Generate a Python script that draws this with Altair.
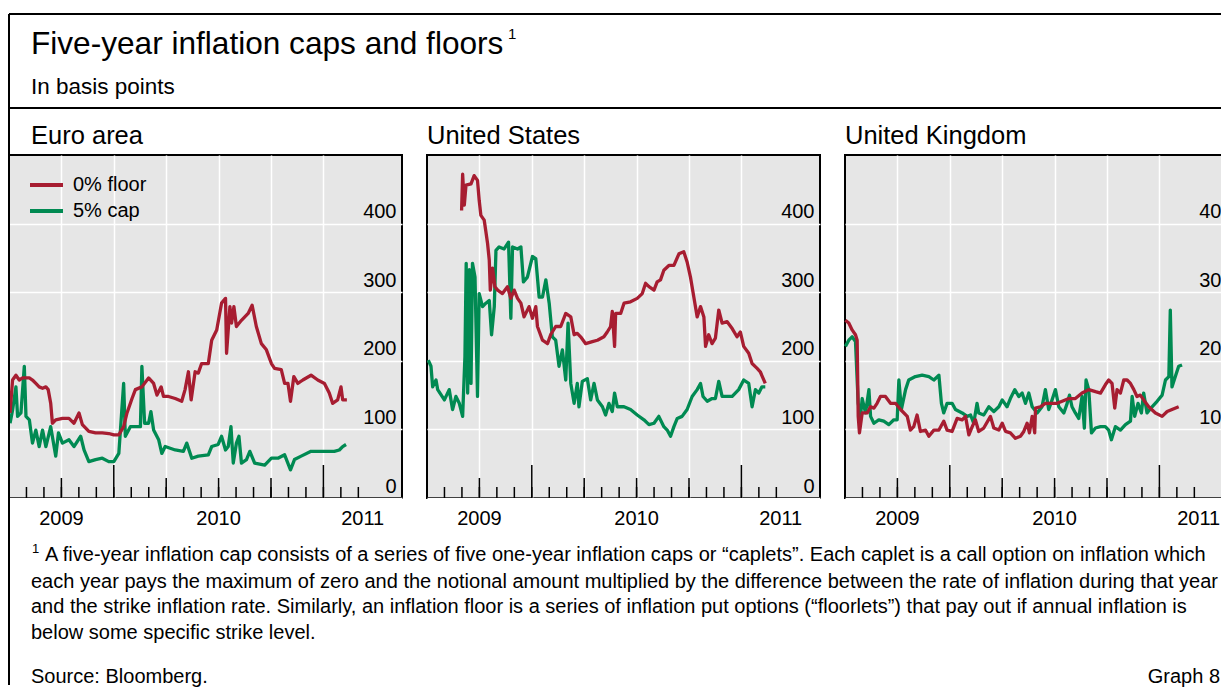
import altair as alt
import numpy as np
import pandas as pd

FONT = "Liberation Sans"
RED = "#a71d31"
GREEN = "#008a52"
PANEL_BG = "#e6e6e6"

series_names = ["0% floor", "5% cap"]
series_colors = [RED, GREEN]
panel_titles = ["Euro area", "United States", "United Kingdom"]
y_tick_values = [0, 100, 200, 300, 400]
y_domain = [0, 500]
x_domain = [2009.5, 2011.375]
year_labels = ["2009", "2010", "2011"]
year_bounds = [2009.5, 2010.0, 2011.0, 2011.375]
quarter_grid = [2009.75, 2010.0, 2010.25, 2010.5, 2010.75, 2011.0]
quarter_ticks = [2009.75, 2010.25, 2010.5, 2010.75]
year_ticks = [2010.0, 2011.0]
month_ticks = [round(2009.5 + k / 12, 4) for k in range(1, 21)]

# ---------------- Euro area ----------------
ea_floor_year = [2009.505, 2009.517, 2009.533, 2009.549, 2009.565, 2009.597, 2009.612, 2009.628, 2009.644, 2009.660,
                 2009.676, 2009.687, 2009.699, 2009.707, 2009.723, 2009.755, 2009.786, 2009.810, 2009.834, 2009.850,
                 2009.881, 2009.913, 2009.945, 2009.976, 2010.000, 2010.024, 2010.047, 2010.063, 2010.087, 2010.103,
                 2010.134, 2010.166, 2010.190, 2010.206, 2010.226, 2010.237, 2010.261, 2010.293, 2010.324, 2010.340,
                 2010.356, 2010.369, 2010.388, 2010.403, 2010.419, 2010.451, 2010.467, 2010.491, 2010.514, 2010.533,
                 2010.538, 2010.554, 2010.562, 2010.573, 2010.585, 2010.609, 2010.641, 2010.660, 2010.680, 2010.704,
                 2010.728, 2010.752, 2010.767, 2010.799, 2010.815, 2010.831, 2010.843, 2010.859, 2010.878, 2010.902,
                 2010.941, 2010.973, 2011.005, 2011.028, 2011.044, 2011.068, 2011.084, 2011.092, 2011.112]
ea_floor_bp = [124, 172, 179, 172, 175, 175, 172, 167, 162, 160,
               162, 158, 138, 109, 114, 116, 116, 109, 124, 107,
               97, 95, 95, 94, 92, 92, 104, 124, 145, 158,
               162, 175, 167, 150, 162, 148, 148, 145, 141, 158,
               184, 143, 184, 182, 196, 196, 230, 245, 284, 291,
               211, 279, 255, 279, 250, 259, 269, 281, 250, 225,
               216, 196, 189, 187, 167, 167, 141, 177, 167, 172,
               179, 172, 167, 153, 138, 143, 162, 143, 143]
ea_cap_year = [2009.505, 2009.517, 2009.533, 2009.541, 2009.557, 2009.573, 2009.581, 2009.597, 2009.612, 2009.628,
               2009.644, 2009.660, 2009.676, 2009.699, 2009.723, 2009.736, 2009.755, 2009.786, 2009.810, 2009.842,
               2009.858, 2009.881, 2009.913, 2009.945, 2009.976, 2010.000, 2010.024, 2010.047, 2010.055, 2010.079,
               2010.103, 2010.127, 2010.134, 2010.147, 2010.166, 2010.177, 2010.190, 2010.214, 2010.229, 2010.245,
               2010.293, 2010.332, 2010.348, 2010.372, 2010.403, 2010.451, 2010.467, 2010.498, 2010.514, 2010.533,
               2010.546, 2010.559, 2010.570, 2010.585, 2010.597, 2010.609, 2010.633, 2010.649, 2010.672, 2010.720,
               2010.752, 2010.783, 2010.815, 2010.843, 2010.862, 2010.894, 2010.941, 2010.989, 2011.052, 2011.076,
               2011.092, 2011.108]
ea_cap_bp = [109, 128, 162, 119, 124, 192, 119, 114, 80, 99,
             75, 99, 75, 104, 61, 95, 80, 85, 75, 90,
             70, 53, 56, 58, 53, 53, 65, 167, 90, 104,
             104, 104, 192, 109, 109, 126, 99, 85, 65, 75,
             70, 68, 80, 58, 61, 63, 75, 78, 90, 70,
             75, 104, 51, 80, 90, 51, 56, 68, 51, 48,
             58, 58, 63, 41, 56, 61, 68, 68, 68, 70,
             75, 78]

# ---------------- United States ----------------
us_floor_year = [2009.665, 2009.670, 2009.678, 2009.686, 2009.710, 2009.725, 2009.741, 2009.749, 2009.757, 2009.773,
                 2009.781, 2009.789, 2009.797, 2009.802, 2009.813, 2009.824, 2009.837, 2009.860, 2009.884, 2009.900,
                 2009.916, 2009.932, 2009.948, 2009.963, 2009.987, 2010.003, 2010.019, 2010.027, 2010.051, 2010.075,
                 2010.090, 2010.114, 2010.138, 2010.162, 2010.186, 2010.202, 2010.217, 2010.233, 2010.257, 2010.289,
                 2010.313, 2010.344, 2010.360, 2010.376, 2010.384, 2010.395, 2010.400, 2010.424, 2010.440, 2010.471,
                 2010.503, 2010.527, 2010.543, 2010.559, 2010.583, 2010.598, 2010.614, 2010.630, 2010.654, 2010.678,
                 2010.702, 2010.725, 2010.741, 2010.757, 2010.773, 2010.789, 2010.805, 2010.821, 2010.829, 2010.844,
                 2010.860, 2010.876, 2010.892, 2010.908, 2010.932, 2010.956, 2010.979, 2010.995, 2011.011, 2011.035,
                 2011.051, 2011.075, 2011.090, 2011.114]
us_floor_bp = [419, 472, 427, 456, 458, 470, 463, 434, 412, 405,
               388, 371, 347, 303, 335, 308, 303, 298, 308, 291,
               303, 291, 284, 264, 279, 262, 279, 250, 230, 225,
               238, 250, 250, 269, 264, 238, 240, 235, 225, 228,
               230, 235, 242, 250, 272, 221, 269, 269, 284, 286,
               291, 298, 313, 308, 303, 315, 318, 332, 339, 339,
               356, 359, 344, 322, 293, 264, 279, 264, 221, 238,
               225, 233, 274, 255, 257, 247, 235, 242, 221, 211,
               196, 189, 184, 167]
us_cap_year = [2009.506, 2009.519, 2009.527, 2009.543, 2009.551, 2009.583, 2009.606, 2009.622, 2009.638, 2009.654,
               2009.670, 2009.681, 2009.687, 2009.694, 2009.702, 2009.710, 2009.717, 2009.729, 2009.741, 2009.749,
               2009.765, 2009.781, 2009.797, 2009.808, 2009.821, 2009.829, 2009.844, 2009.868, 2009.889, 2009.900,
               2009.908, 2009.932, 2009.948, 2009.960, 2009.979, 2010.003, 2010.019, 2010.035, 2010.051, 2010.067,
               2010.083, 2010.098, 2010.114, 2010.130, 2010.146, 2010.162, 2010.173, 2010.186, 2010.202, 2010.217,
               2010.225, 2010.241, 2010.265, 2010.281, 2010.297, 2010.313, 2010.337, 2010.352, 2010.368, 2010.384,
               2010.395, 2010.408, 2010.440, 2010.471, 2010.503, 2010.535, 2010.559, 2010.583, 2010.606, 2010.630,
               2010.646, 2010.662, 2010.678, 2010.694, 2010.717, 2010.741, 2010.765, 2010.789, 2010.805, 2010.817,
               2010.837, 2010.860, 2010.876, 2010.892, 2010.908, 2010.932, 2010.956, 2010.987, 2011.011, 2011.035,
               2011.051, 2011.067, 2011.083, 2011.098, 2011.114]
us_cap_bp = [201, 192, 162, 172, 158, 143, 158, 129, 148, 138,
             119, 206, 342, 153, 333, 167, 342, 322, 148, 298,
             279, 284, 288, 238, 279, 361, 366, 363, 373, 262,
             366, 363, 366, 315, 322, 352, 349, 293, 293, 318,
             284, 235, 230, 192, 216, 172, 255, 167, 138, 167,
             133, 170, 174, 143, 167, 143, 133, 121, 138, 126,
             153, 133, 133, 129, 121, 114, 107, 109, 119, 104,
             99, 90, 104, 116, 119, 129, 148, 158, 167, 148,
             141, 145, 145, 170, 148, 148, 148, 158, 172, 167,
             133, 158, 153, 162, 162]

# ---------------- United Kingdom ----------------
uk_floor_year = [2009.502, 2009.518, 2009.534, 2009.550, 2009.558, 2009.563, 2009.569, 2009.582, 2009.606, 2009.622,
                 2009.638, 2009.653, 2009.669, 2009.693, 2009.717, 2009.741, 2009.765, 2009.797, 2009.812, 2009.828,
                 2009.844, 2009.860, 2009.884, 2009.900, 2009.924, 2009.948, 2009.971, 2009.987, 2010.011, 2010.035,
                 2010.059, 2010.075, 2010.091, 2010.107, 2010.122, 2010.138, 2010.162, 2010.194, 2010.210, 2010.234,
                 2010.250, 2010.266, 2010.289, 2010.313, 2010.337, 2010.353, 2010.369, 2010.380, 2010.393, 2010.405,
                 2010.409, 2010.432, 2010.456, 2010.488, 2010.512, 2010.536, 2010.568, 2010.599, 2010.631, 2010.663,
                 2010.695, 2010.719, 2010.742, 2010.758, 2010.774, 2010.787, 2010.798, 2010.814, 2010.830, 2010.846,
                 2010.862, 2010.878, 2010.893, 2010.909, 2010.925, 2010.949, 2010.981, 2011.013, 2011.037, 2011.060,
                 2011.092]
uk_floor_bp = [259, 255, 245, 238, 230, 119, 95, 124, 124, 133,
               131, 138, 148, 148, 138, 138, 129, 119, 99, 104,
               121, 97, 99, 90, 99, 99, 112, 99, 97, 116,
               114, 119, 92, 104, 114, 97, 102, 119, 102, 99,
               109, 97, 95, 87, 90, 97, 109, 95, 119, 95,
               131, 133, 138, 138, 138, 141, 145, 145, 153, 158,
               155, 153, 165, 172, 167, 131, 158, 153, 172, 172,
               167, 158, 148, 150, 143, 133, 124, 119, 126, 129,
               133]
uk_cap_year = [2009.502, 2009.518, 2009.534, 2009.550, 2009.563, 2009.574, 2009.582, 2009.598, 2009.614, 2009.622,
               2009.638, 2009.661, 2009.685, 2009.709, 2009.733, 2009.749, 2009.757, 2009.769, 2009.789, 2009.804,
               2009.836, 2009.868, 2009.900, 2009.924, 2009.948, 2009.960, 2009.971, 2009.987, 2010.011, 2010.027,
               2010.059, 2010.083, 2010.099, 2010.114, 2010.130, 2010.138, 2010.162, 2010.186, 2010.210, 2010.234,
               2010.250, 2010.273, 2010.289, 2010.310, 2010.329, 2010.345, 2010.361, 2010.377, 2010.393, 2010.417,
               2010.440, 2010.456, 2010.472, 2010.488, 2010.504, 2010.520, 2010.544, 2010.560, 2010.571, 2010.583,
               2010.599, 2010.615, 2010.631, 2010.642, 2010.650, 2010.663, 2010.676, 2010.695, 2010.719, 2010.742,
               2010.758, 2010.771, 2010.790, 2010.814, 2010.838, 2010.862, 2010.870, 2010.882, 2010.898, 2010.914,
               2010.925, 2010.941, 2010.965, 2010.989, 2011.013, 2011.029, 2011.045, 2011.052, 2011.060, 2011.076,
               2011.092, 2011.108]
uk_cap_bp = [221, 230, 235, 228, 138, 119, 145, 124, 158, 119,
             109, 114, 112, 107, 114, 114, 172, 129, 158, 172,
             177, 179, 177, 172, 179, 138, 124, 138, 138, 129,
             124, 119, 121, 109, 138, 124, 121, 133, 126, 133,
             143, 133, 145, 158, 148, 153, 138, 153, 133, 124,
             133, 158, 129, 143, 158, 133, 124, 138, 150, 133,
             124, 116, 148, 102, 172, 158, 95, 102, 104, 104,
             99, 85, 104, 99, 107, 112, 148, 119, 138, 124,
             153, 124, 133, 141, 150, 172, 177, 274, 162, 177,
             192, 194]

title_text = "Five-year inflation caps and floors"
subtitle_text = "In basis points"
footnote_lines = [
    "A five-year inflation cap consists of a series of five one-year inflation caps or \u201ccaplets\u201d. Each caplet is a call option on inflation which",
    "each year pays the maximum of zero and the notional amount multiplied by the difference between the rate of inflation during that year",
    "and the strike inflation rate. Similarly, an inflation floor is a series of inflation put options (\u201cfloorlets\u201d) that pay out if annual inflation is",
    "below some specific strike level.",
]
source_text = "Source: Bloomberg."
graph_text = "Graph 8"

W, H = 393, 343

x_enc = alt.X("year:Q", scale=alt.Scale(domain=x_domain, nice=False, zero=False),
              axis=alt.Axis(values=quarter_grid, grid=True, gridColor="white", gridWidth=1.5,
                            labels=False, ticks=False, domain=False, title=None))
y_enc = alt.Y("bp:Q", scale=alt.Scale(domain=y_domain, nice=False),
              axis=alt.Axis(orient="right", values=y_tick_values, grid=True, gridColor="white",
                            gridWidth=1.5, ticks=False, domain=False, labelAlign="right",
                            labelPadding=-6, labelBaseline="alphabetic", labelOffset=-6,
                            labelFlush=False, labelFontSize=20, labelFont=FONT,
                            labelColor="black", title=None))
color_enc = alt.Color("series:N", scale=alt.Scale(domain=series_names, range=series_colors), legend=None)

one_row = pd.DataFrame({"k": [0]})


def tick_layer(vals, length):
    return alt.Chart(pd.DataFrame({"year": vals})).mark_rule(color="black", strokeWidth=1.5).encode(
        x=x_enc, y=alt.value(H), y2=alt.value(H - length))


def line_layer(years, vals, name):
    df = pd.DataFrame({"year": years, "bp": vals, "series": name})
    return alt.Chart(df).mark_line(strokeWidth=3.3, strokeJoin="round").encode(
        x=x_enc, y=y_enc, color=color_enc)


label_df = pd.DataFrame({
    "year": [(year_bounds[i] + year_bounds[i + 1]) / 2 for i in range(len(year_labels))],
    "label": year_labels,
})
year_label_layer = alt.Chart(label_df).mark_text(
    font=FONT, fontSize=20, color="black", align="center", baseline="middle").encode(
    x=x_enc, y=alt.value(H + 21), text="label:N")


def deco_text(txt, xv, yv, size, align="left"):
    return alt.Chart(one_row).mark_text(
        text=txt, font=FONT, fontSize=size, align=align, baseline="middle", color="black").encode(
        x=alt.value(xv), y=alt.value(yv))


def deco_rule(x1, x2, y1, y2, color="black", width=2):
    return alt.Chart(one_row).mark_rule(color=color, strokeWidth=width).encode(
        x=alt.value(x1), x2=alt.value(x2), y=alt.value(y1), y2=alt.value(y2))


def make_panel(title, floor, cap, dx, extras=()):
    layers = [
        tick_layer(month_ticks, 11),
        tick_layer(quarter_ticks, 20),
        tick_layer(year_ticks, 33),
        line_layer(cap[0], cap[1], series_names[1]),
        line_layer(floor[0], floor[1], series_names[0]),
        year_label_layer,
        deco_text(title, dx, -19, 25.5),
    ] + list(extras)
    return alt.layer(*layers).properties(width=W, height=H)


legend_layers = []
for i, (nm, col) in enumerate(zip(series_names, series_colors)):
    yy = 30 + 26 * i
    legend_layers.append(deco_rule(21, 54, yy, yy, color=col, width=4))
    legend_layers.append(deco_text(nm, 64, yy, 20))

frame_layers = [
    deco_rule(0, 1300, -141, -141),
    deco_rule(0, 1300, -47, -47),
    deco_rule(0, 0, -141, 530),
    deco_text(title_text, 22, -110, 31.6),
    deco_text("1", 499, -121, 15),
    deco_text(subtitle_text, 22, -68, 22.5),
    deco_text("1", 23, 394, 13),
    deco_text(footnote_lines[0], 36, 400, 20),
    deco_text(footnote_lines[1], 22, 427, 20),
    deco_text(footnote_lines[2], 22, 452, 20),
    deco_text(footnote_lines[3], 22, 478, 20),
    deco_text(source_text, 22, 522, 20),
    deco_text(graph_text, 1211, 522, 20, align="right"),
]

p1 = make_panel(panel_titles[0], (ea_floor_year, ea_floor_bp), (ea_cap_year, ea_cap_bp), 22,
                extras=legend_layers + frame_layers)
p2 = make_panel(panel_titles[1], (us_floor_year, us_floor_bp), (us_cap_year, us_cap_bp), 0)
p3 = make_panel(panel_titles[2], (uk_floor_year, uk_floor_bp), (uk_cap_year, uk_cap_bp), 0)

chart = alt.hconcat(p1, p2, p3, spacing=25, bounds="flush").properties(
    autosize=alt.AutoSizeParams(type="none"),
    padding={"left": 1, "top": 147, "right": 1212, "bottom": 526},
).configure(font=FONT).configure_view(fill=PANEL_BG, stroke="black", strokeWidth=2)

chart.save("out.html", embed_options={"renderer": "svg", "actions": False})
